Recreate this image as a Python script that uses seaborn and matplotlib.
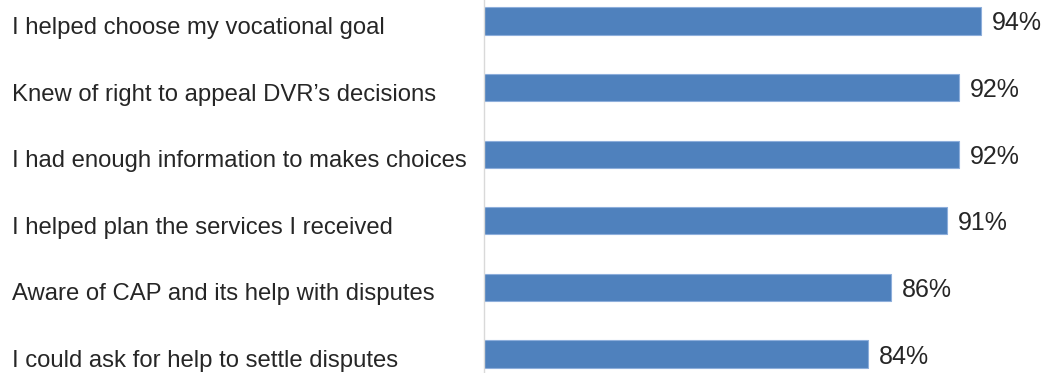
import matplotlib
matplotlib.use("Agg")
import matplotlib.pyplot as plt
import matplotlib.transforms as mtransforms
import seaborn as sns
import pandas as pd

categories = [
    "I helped choose my vocational goal",
    "Knew of right to appeal DVR\u2019s decisions",
    "I had enough information to makes choices",
    "I helped plan the services I received",
    "Aware of CAP and its help with disputes",
    "I could ask for help to settle disputes",
]
values = [94, 92, 92, 91, 86, 84]
value_labels = [f"{v}%" for v in values]

sns.set_theme(style="white")
plt.rcParams["font.family"] = ["Liberation Sans", "DejaVu Sans"]

W, H, DPI = 1045, 373, 100
PT = 72 / DPI  # points per pixel
TEXT_COLOR = "#262626"

fig = plt.figure(figsize=(W / DPI, H / DPI), dpi=DPI)
ax_left = 484 / W
ax = fig.add_axes([ax_left, 0.0, 1 - ax_left, 1.0])

df = pd.DataFrame({"item": categories, "pct": values})
sns.barplot(data=df, x="pct", y="item", orient="h", color="#4F81BD",
            saturation=1, width=0.41, edgecolor="#8DAEDB", linewidth=0.8, ax=ax)

ax.set_xlim(50, 50 + (W - 484) / 11.3)
ax.set_ylim(5.285, -0.315)
ax.set_xlabel("")
ax.set_ylabel("")
ax.set_xticks([])
ax.set_yticks([])

for side in ["top", "right", "bottom"]:
    ax.spines[side].set_visible(False)
ax.spines["left"].set_color("#D9D9D9")
ax.spines["left"].set_linewidth(1.0)

# Category labels, left-aligned at the figure's left margin
label_trans = mtransforms.blended_transform_factory(fig.transFigure, ax.transData)
for i, cat in enumerate(categories):
    ax.annotate(cat, xy=(12 / W, i), xycoords=label_trans,
                xytext=(0, -7 * PT), textcoords="offset points",
                ha="left", va="center", fontsize=17.2, color=TEXT_COLOR,
                annotation_clip=False)

# Percentage labels just past the end of each bar
for patch, lab in zip(ax.patches, value_labels):
    ax.annotate(lab, xy=(patch.get_width(), patch.get_y() + patch.get_height() / 2),
                xytext=(11 * PT, -2.5 * PT), textcoords="offset points",
                ha="left", va="center", fontsize=18, color=TEXT_COLOR,
                annotation_clip=False)

fig.savefig("out.png", dpi=DPI)
